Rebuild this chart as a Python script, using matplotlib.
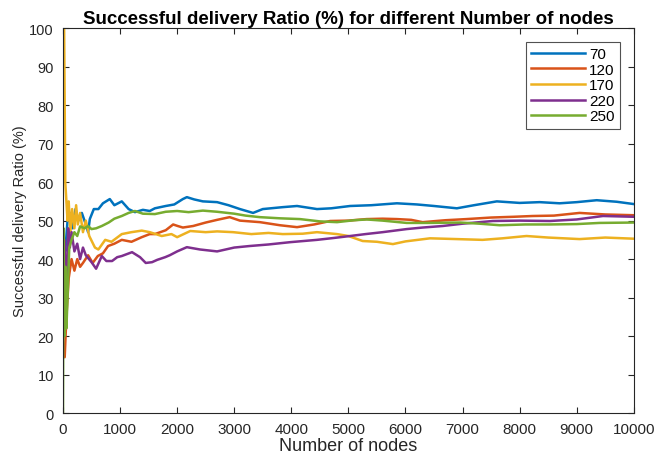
import numpy as np
import matplotlib
matplotlib.use('Agg')
font  = {'family'       : 'Liberation Sans',
         'size'         :  11,}
xtick = {'direction'    : 'in',
         'top'          : True,
         'major.size'   : 4,
         'major.pad'    : 6.5,
         'color'        : '#262626',}
ytick = {'direction'    : 'in',
         'right'        : True,
         'major.size'   : 4,
         'major.pad'    : 6.5,
         'color'        : '#262626',}
matplotlib.rc('font' , **font )
matplotlib.rc('xtick', **xtick)
matplotlib.rc('ytick', **ytick)
import matplotlib.pyplot as plt

# running delivery ratio per network size
n70_x  = [0, 15, 40, 80, 120, 170, 220, 270, 330, 400, 440, 470, 540, 620, 700, 820, 900,
          1030, 1150, 1260, 1400, 1520, 1610, 1800, 1950, 2100, 2170, 2300, 2450, 2700,
          2900, 3100, 3330, 3500, 3850, 4100, 4450, 4700, 5030, 5400, 5850, 6200, 6500,
          6900, 7200, 7600, 8000, 8350, 8700, 9000, 9350, 9700, 10000]
n70_y  = [40, 45, 42, 50, 52, 48, 53, 50, 52, 49, 47, 50.4, 53, 53, 54.5, 55.6, 54,
          55, 53, 52.2, 52.8, 52.5, 53.2, 53.8, 54.2, 55.6, 56.1, 55.5, 55, 54.8,
          54, 53, 52, 53, 53.5, 53.8, 53, 53.2, 53.8, 54, 54.5, 54.2, 53.8,
          53.2, 54, 55, 54.6, 54.8, 54.5, 54.8, 55.3, 54.9, 54.3]

n120_x = [0, 30, 60, 100, 150, 200, 250, 300, 350, 440, 520, 610, 700, 790, 900, 1030,
          1200, 1380, 1520, 1610, 1800, 1930, 2010, 2100, 2280, 2500, 2700, 2920, 3100,
          3450, 3800, 4100, 4400, 4680, 5000, 5320, 5600, 5850, 6100, 6300, 6700, 7070,
          7500, 7900, 8230, 8600, 9050, 9500, 10000]
n120_y = [15, 14.5, 25, 35, 40, 37, 40, 38, 39, 41, 39, 40.8, 41.5, 43.4, 44, 45,
          44.5, 45.7, 46.5, 46.5, 47.5, 49, 48.6, 48.2, 48.6, 49.5, 50.2, 50.9, 50,
          49.6, 48.8, 48.3, 49, 49.9, 50, 50.4, 50.5, 50.4, 50.2, 49.6, 50.1, 50.4,
          50.8, 51, 51.2, 51.3, 52, 51.6, 51.4]

n170_x = [0, 20, 40, 60, 80, 100, 130, 160, 200, 230, 260, 300, 350, 400, 460, 560, 620,
          740, 850, 1030, 1200, 1380, 1520, 1730, 1900, 2000, 2230, 2500, 2700, 2980,
          3300, 3600, 3850, 4200, 4450, 4800, 5000, 5250, 5500, 5780, 6000, 6430, 6900,
          7350, 7700, 8120, 8500, 9050, 9500, 10000]
n170_y = [100, 100, 60, 55, 50, 55, 47, 53, 48, 54, 49, 52, 47, 50, 46, 43, 42.5,
          45, 44.5, 46.5, 47, 47.4, 47, 46, 46.5, 45.7, 47.3, 47, 47.2, 47,
          46.5, 46.8, 46.5, 46.6, 47, 46.5, 46, 44.7, 44.5, 43.9, 44.6, 45.4, 45.2,
          45, 45.4, 46, 45.6, 45.2, 45.6, 45.3]

n220_x = [0, 30, 50, 70, 90, 120, 150, 200, 250, 300, 350, 400, 500, 580, 680, 760, 860,
          950, 1030, 1210, 1350, 1450, 1560, 1650, 1790, 1870, 2000, 2170, 2400, 2700,
          3000, 3270, 3600, 3980, 4450, 4750, 5030, 5300, 5600, 6020, 6300, 6650, 7000,
          7530, 8000, 8530, 9000, 9460, 10000]
n220_y = [30, 45, 30, 35, 48, 43, 47, 42, 44, 40, 43, 41, 39.2, 37.5, 40.8, 39.5, 39.5,
          40.5, 40.8, 41.8, 40.5, 39, 39.2, 39.8, 40.5, 41, 42, 43.1, 42.5, 42,
          43, 43.4, 43.8, 44.4, 45, 45.5, 46, 46.5, 47, 47.8, 48.2, 48.6, 49.2,
          49.9, 50, 49.9, 50.3, 51.2, 51]

n250_x = [0, 10, 25, 45, 60, 80, 110, 150, 200, 250, 300, 380, 440, 500, 580, 680, 800,
          900, 1030, 1150, 1260, 1400, 1610, 1800, 2000, 2200, 2450, 2700, 3000, 3200,
          3450, 3800, 4150, 4500, 4800, 5100, 5320, 5600, 6020, 6370, 6960, 7300, 7650,
          8100, 8530, 9000, 9400, 10000]
n250_y = [0, 48, 20, 38, 22, 30, 43, 45, 47, 46, 48.5, 48, 48.6, 47.8, 48, 48.6, 49.5,
          50.5, 51.2, 52, 52.5, 51.8, 51.7, 52.3, 52.5, 52.2, 52.6, 52.3, 51.8, 51.3,
          50.9, 50.6, 50.4, 49.8, 49.6, 50.1, 50.3, 50, 49.4, 49.4, 49.5, 49.2, 48.8,
          49, 49, 49.1, 49.4, 49.5]

labels = ['70', '120', '170', '220', '250']
colors = ['#0072BD', '#D95319', '#EDB120', '#7E2F8E', '#77AC30']

if __name__ == '__main__':
    series = [(n70_x, n70_y), (n120_x, n120_y), (n170_x, n170_y),
              (n220_x, n220_y), (n250_x, n250_y)]
    fig = plt.figure(figsize=(6.7, 4.56), dpi=100)
    ax  = fig.add_axes([0.094, 0.092, 0.852, 0.844])
    for (x, y), lab, c in zip(series, labels, colors):
        ax.plot(x, y, color=c, lw=1.8, label=lab)
    ax.set_xlim(0, 10000)
    ax.set_ylim(0, 100)
    ax.set_xticks(np.arange(0, 10001, 1000))
    ax.set_yticks(np.arange(0, 101, 10))
    ax.tick_params(axis='y', labelsize=10.5)
    for s in ax.spines.values():
        s.set_color('#262626')
        s.set_linewidth(0.8)
    ax.tick_params(labelcolor='#262626')
    ax.set_title('Successful delivery Ratio (%) for different Number of nodes',
                 fontsize=13.5, fontweight='bold', pad=4)
    ax.set_xlabel('Number of nodes', fontsize=13, color='#262626', labelpad=1)
    ax.set_ylabel('Successful delivery Ratio (%)', fontsize=10.5, color='#262626', labelpad=2)
    leg = ax.legend(loc='upper right', fancybox=False, edgecolor='#262626',
                    handlelength=3.5, borderaxespad=0.9, fontsize=11,
                    labelspacing=0.1, handletextpad=0.3, borderpad=0.35)
    leg.get_frame().set_linewidth(0.8)
    fig.savefig('out.png', dpi=100)
    plt.close(fig)
